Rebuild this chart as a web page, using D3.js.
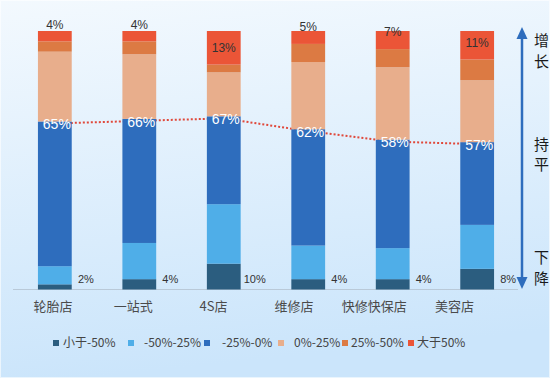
<!DOCTYPE html>
<html>
<head>
<meta charset="utf-8">
<script src="https://cdn.jsdelivr.net/npm/d3@7"></script>
<style>
  body { margin: 0; }
  svg { display: block; font-family: "Liberation Sans Narrow", "Liberation Sans", Arial, sans-serif; }
</style>
</head>
<body>
<div id="chart"></div>
<script>
/* DATA */
const categories = ["轮胎店", "一站式", "4S店", "维修店", "快修快保店", "美容店"];
const seriesNames = ["小于-50%", "-50%-25%", "-25%-0%", "0%-25%", "25%-50%", "大于50%"];
// share of each band per shop type, in %
const lt50 = [2, 4, 10, 4, 4, 8];
const m50to25 = [7, 14, 23, 13, 12, 17];
const m25to0 = [56, 48, 34, 45, 42, 32];
const p0to25 = [27, 25, 17, 26, 28, 24];
const p25to50 = [4, 5, 3, 7, 7, 8];
const gt50 = [4, 4, 13, 5, 7, 11];
const sideLabels = ["增", "长", "持", "平", "下", "降"];

const colors = ["#2b5d7f", "#4faee8", "#2e6dbd", "#e8ae8c", "#dc7a43", "#eb5537"];

/* CONSTANTS */
const width = 550;
const height = 378;
const plotTop = 31, plotBottom = 289.5;

const table = categories.map((c, i) => ({
  cat: c,
  [seriesNames[0]]: lt50[i],
  [seriesNames[1]]: m50to25[i],
  [seriesNames[2]]: m25to0[i],
  [seriesNames[3]]: p0to25[i],
  [seriesNames[4]]: p25to50[i],
  [seriesNames[5]]: gt50[i]
}));

const stacked = d3.stack().keys(seriesNames)(table);

const svg = d3.select("#chart").append("svg")
  .attr("width", width)
  .attr("height", height);

// background
const defs = svg.append("defs");
const grad = defs.append("linearGradient")
  .attr("id", "bg").attr("x1", 0).attr("y1", 0).attr("x2", 0.15).attr("y2", 1);
grad.append("stop").attr("offset", "0%").attr("stop-color", "#f3f9fe");
grad.append("stop").attr("offset", "100%").attr("stop-color", "#cbe5fb");
svg.append("rect").attr("width", width).attr("height", height).attr("fill", "url(#bg)");
svg.append("rect").attr("x", 0.5).attr("y", 0.5).attr("width", width - 1).attr("height", height - 1)
  .attr("fill", "none").attr("stroke", "#ffffff").attr("stroke-opacity", 0.6);

/* SCALES */
const xScale = d3.scaleBand()
  .domain(categories)
  .range([12.6, 519.4])
  .paddingInner(0.6)
  .paddingOuter(0.3);

const yScale = d3.scaleLinear()
  .domain([0, 100])
  .range([plotBottom, plotTop]);

// category labels sit on their own, slightly tighter spacing
const xLabel = d3.scalePoint()
  .domain(categories)
  .range([52.5, 454]);

// axis line
svg.append("line")
  .attr("x1", 13).attr("x2", 518)
  .attr("y1", plotBottom).attr("y2", plotBottom)
  .attr("stroke", "#b9c9d8").attr("stroke-width", 1);

// dotted line through the cumulative "not growing" share
const flatPts = table.map((d, i) => [xScale(d.cat) + xScale.bandwidth() / 2, yScale(stacked[2][i][1]) + 2]);
svg.append("path")
  .attr("d", d3.line()(flatPts))
  .attr("fill", "none")
  .attr("stroke", "#e0483a")
  .attr("stroke-width", 2)
  .attr("stroke-dasharray", "2,2");

/* BARS */
svg.selectAll("g.series")
  .data(stacked)
  .join("g")
  .attr("class", "series")
  .attr("fill", (d, i) => colors[i])
  .selectAll("rect")
  .data(d => d)
  .join("rect")
  .attr("x", d => xScale(d.data.cat))
  .attr("y", d => yScale(d[1]))
  .attr("width", xScale.bandwidth())
  .attr("height", d => yScale(d[0]) - yScale(d[1]));

// cumulative labels (white)
svg.selectAll("text.flat")
  .data(table)
  .join("text")
  .attr("class", "flat")
  .attr("x", (d, i) => xScale(d.cat) + xScale.bandwidth() / 2 + 2)
  .attr("y", (d, i) => yScale(stacked[2][i][1]) + 3)
  .attr("dy", "0.35em")
  .attr("text-anchor", "middle")
  .attr("fill", "#ffffff")
  .style("font-size", "14px")
  .text((d, i) => Math.round(stacked[2][i][1]) + "%");

// top labels (大于50%)
svg.selectAll("text.top")
  .data(table)
  .join("text")
  .attr("class", "top")
  .attr("x", d => xScale(d.cat) + xScale.bandwidth() / 2)
  .attr("y", (d, i) => yScale(stacked[5][i][0]) - 17)
  .attr("dy", "0.35em")
  .attr("text-anchor", "middle")
  .attr("fill", "#333333")
  .style("font-size", "12px")
  .text((d, i) => gt50[i] + "%");

// bottom labels (小于-50%)
svg.selectAll("text.bottom")
  .data(table)
  .join("text")
  .attr("class", "bottom")
  .attr("x", d => xScale(d.cat) + xScale.bandwidth() / 2 + 31)
  .attr("y", 279.5)
  .attr("dy", "0.35em")
  .attr("text-anchor", "middle")
  .attr("fill", "#333333")
  .style("font-size", "11px")
  .text((d, i) => lt50[i] + "%");

/* AXIS */
const xAxis = d3.axisBottom(xLabel).tickSize(0).tickPadding(0);
const gx = svg.append("g")
  .attr("transform", `translate(0,${plotBottom + 12})`)
  .call(xAxis);
gx.select(".domain").remove();
gx.selectAll("text")
  .attr("fill", "#4a4a4a")
  .style("font-size", "13px")
  .style("font-family", "'Noto Sans CJK SC', sans-serif");

/* LEGEND */
const legendX = [53, 128, 204, 278, 342, 408];
const legendGap = [4, 10, 12, 10, 3, 3];
const legend = svg.selectAll("g.legend")
  .data(seriesNames)
  .join("g")
  .attr("class", "legend")
  .attr("transform", (d, i) => `translate(${legendX[i]},343)`);
legend.append("rect")
  .attr("x", 0).attr("y", -3)
  .attr("width", 6).attr("height", 6)
  .attr("fill", (d, i) => colors[i]);
legend.append("text")
  .attr("x", (d, i) => 6 + legendGap[i])
  .attr("dy", "0.35em")
  .attr("fill", "#444444")
  .style("font-size", "12px")
  .style("font-family", "'Liberation Sans Narrow', 'Noto Sans CJK SC', sans-serif")
  .text(d => d);

/* SIDE ARROW */
const arrowX = 522;
const blue = "#2e6dbd";
svg.append("line")
  .attr("x1", arrowX).attr("x2", arrowX)
  .attr("y1", 36).attr("y2", 280)
  .attr("stroke", blue).attr("stroke-width", 2.5);
svg.append("path")
  .attr("d", `M${arrowX},27 L${arrowX - 5.5},39 L${arrowX + 5.5},39 Z`)
  .attr("fill", blue);
svg.append("path")
  .attr("d", `M${arrowX},289 L${arrowX - 5.5},277 L${arrowX + 5.5},277 Z`)
  .attr("fill", blue);

const sideY = [41, 62, 145, 165, 258, 279];
svg.selectAll("text.side")
  .data(sideLabels)
  .join("text")
  .attr("class", "side")
  .attr("x", 534)
  .attr("y", (d, i) => sideY[i])
  .attr("dy", "0.36em")
  .attr("fill", "#1a1a1a")
  .style("font-size", "15px")
  .style("font-family", "'Noto Sans CJK SC', sans-serif")
  .text(d => d);
</script>
</body>
</html>
